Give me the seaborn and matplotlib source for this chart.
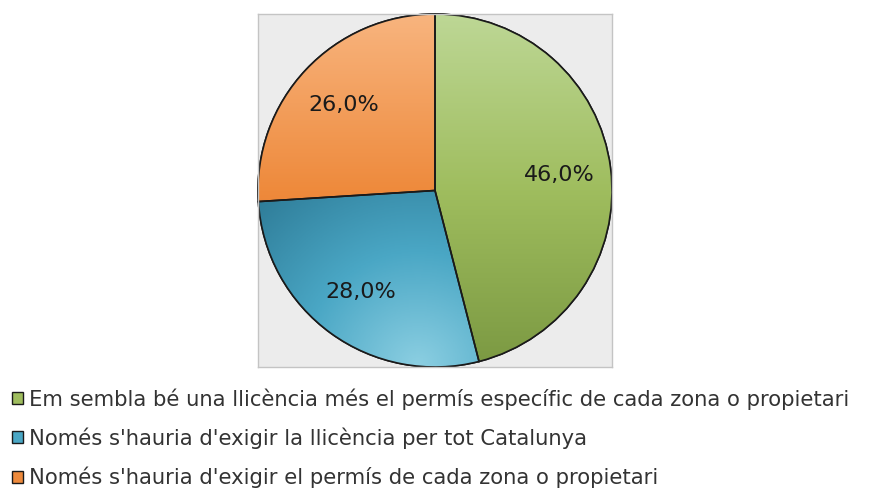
import matplotlib
matplotlib.use('Agg')
import matplotlib.pyplot as plt
import matplotlib.patches as mpatches
from matplotlib.colors import LinearSegmentedColormap
import numpy as np
import seaborn as sns

labels = ["Em sembla bé una llicència més el permís específic de cada zona o propietari",
          "Només s'hauria d'exigir la llicència per tot Catalunya",
          "Només s'hauria d'exigir el permís de cada zona o propietari"]
values = [46.0, 28.0, 26.0]
colors = ['#9fbd5e', '#4aa7c5', '#ee8a3c']
# light / dark shades for gradient fill
light = ['#bdd795', '#8ccfe2', '#f8b47e']
dark = ['#7b9942', '#2f7d99', '#d6641a']

sns.set_theme(style='white')
plt.rcParams['font.family'] = ['DejaVu Sans']

fig = plt.figure(figsize=(8.75, 4.88), dpi=100)
ax = fig.add_axes([258 / 875, 1 - 367 / 488, 354 / 875, 353 / 488])

wedges, texts, autotexts = ax.pie(values, colors=colors, startangle=90, counterclock=False,
                                  autopct=lambda p: f'{p:.1f}%'.replace('.', ','),
                                  pctdistance=0.71, radius=1.0,
                                  wedgeprops=dict(edgecolor='#1a1a1a', linewidth=1.2),
                                  textprops=dict(fontsize=16, color='#1a1a1a'))
ax.set_frame_on(True)
ax.set_facecolor('#ececec')
for s in ax.spines.values():
    s.set_visible(True)
    s.set_color('#c4c4c4')
    s.set_linewidth(1)
ax.set_xticks([])
ax.set_yticks([])

# gradient fill clipped to each wedge
yy, xx = np.mgrid[1:-1:200j, -1:1:200j]
grads = [(1 - yy) / 2,                       # green: light top -> dark bottom
         1 - np.clip(np.hypot(xx + 0.1, yy + 1.0) / 1.3, 0, 1),  # blue: light near bottom
         (1 - yy) / 2]                        # orange: light top -> dark bottom
for i, w in enumerate(wedges):
    if i == 1:
        cmap = LinearSegmentedColormap.from_list('c', [dark[i], colors[i], light[i]])
    else:
        cmap = LinearSegmentedColormap.from_list('c', [light[i], colors[i], dark[i]])
    im = ax.imshow(grads[i], extent=(-1, 1, -1, 1), cmap=cmap, vmin=0, vmax=1,
                   zorder=w.get_zorder() + 0.1, aspect='auto')
    im.set_clip_path(w)
    edge = mpatches.Wedge(w.center, w.r, w.theta1, w.theta2, facecolor='none',
                          edgecolor='#1a1a1a', linewidth=1.2, zorder=w.get_zorder() + 0.2,
                          clip_on=False)
    ax.add_patch(edge)
for t in autotexts:
    t.set_zorder(10)
ax.set_xlim(-1.0, 1.0)
ax.set_ylim(-1.0, 1.0)
ax.set_aspect('auto')

handles = [mpatches.Patch(facecolor=c, edgecolor='#1a1a1a', linewidth=1) for c in colors]
fig.legend(handles, labels, loc='upper left', bbox_to_anchor=(12 / 875, 1 - 388 / 488),
           frameon=False, fontsize=15.2, handlelength=0.5, handleheight=0.5,
           handletextpad=0.3, labelspacing=0.85, borderaxespad=0, borderpad=0,
           labelcolor='#333333')

fig.savefig('out.png', dpi=100)
